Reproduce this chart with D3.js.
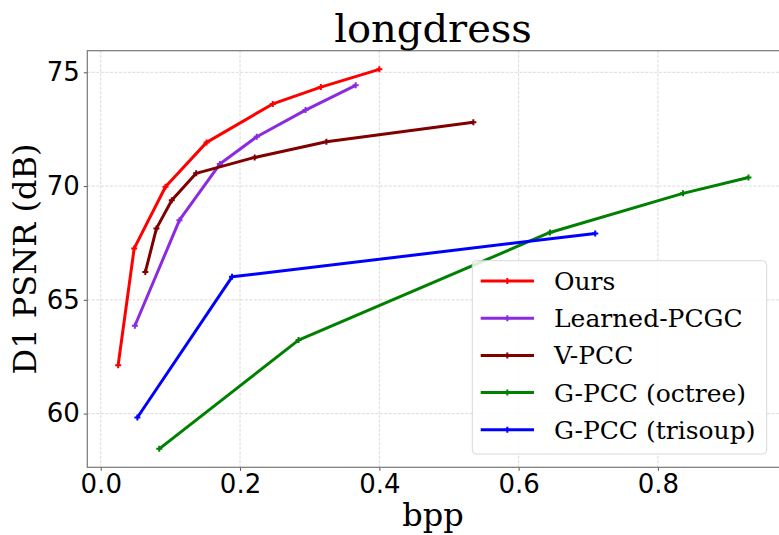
<!DOCTYPE html>
<html>
<head>
<meta charset="utf-8">
<script src="https://cdn.jsdelivr.net/npm/d3@7"></script>
<style>
  body { margin: 0; background: #fff; }
  svg { display: block; }
</style>
</head>
<body>
<svg id="chart" width="779" height="535"></svg>
<script>
// data
const seriesNames = ['Ours', 'Learned-PCGC', 'V-PCC', 'G-PCC (octree)', 'G-PCC (trisoup)'];
const seriesColors = ['#ff0000', '#8a2be2', '#800000', '#008000', '#0000ff'];

const oursBpp = [0.025, 0.048, 0.093, 0.152, 0.247, 0.316, 0.400];
const oursPsnr = [62.13, 67.26, 69.97, 71.92, 73.61, 74.35, 75.13];

const pcgcBpp = [0.049, 0.113, 0.171, 0.224, 0.294, 0.366];
const pcgcPsnr = [63.86, 68.50, 70.97, 72.17, 73.34, 74.43];

const vpccBpp = [0.064, 0.080, 0.102, 0.137, 0.221, 0.324, 0.535];
const vpccPsnr = [66.22, 68.14, 69.38, 70.56, 71.26, 71.95, 72.81];

const octreeBpp = [0.084, 0.284, 0.645, 0.836, 0.930];
const octreePsnr = [58.45, 63.23, 67.96, 69.68, 70.38];

const trisoupBpp = [0.0526, 0.1885, 0.710];
const trisoupPsnr = [59.83, 66.01, 67.92];

const xTicks = [0.0, 0.2, 0.4, 0.6, 0.8];
const yTicks = [60, 65, 70, 75];

const series = [
  [oursBpp, oursPsnr],
  [pcgcBpp, pcgcPsnr],
  [vpccBpp, vpccPsnr],
  [octreeBpp, octreePsnr],
  [trisoupBpp, trisoupPsnr],
].map((s, i) => ({
  name: seriesNames[i],
  color: seriesColors[i],
  points: s[0].map((b, j) => ({ x: b, y: s[1][j] }))
}));

const svg = d3.select('#chart');
const plotLeft = 87.3, plotRight = 779.8, plotTop = 50.7, plotBottom = 467.3;

const x = d3.scaleLinear().domain([-0.0193, 0.975]).range([plotLeft, plotRight]);
const y = d3.scaleLinear().domain([57.64, 75.95]).range([plotBottom, plotTop]);

const serif = 'DejaVu Serif, serif';
const sans = 'DejaVu Sans, sans-serif';

// grid
const grid = svg.append('g');
grid.selectAll('line.gx')
  .data(xTicks)
  .enter()
  .append('line')
    .attr('x1', d => x(d)).attr('x2', d => x(d))
    .attr('y1', plotTop).attr('y2', plotBottom)
    .attr('stroke', '#d0d0d0')
    .attr('stroke-width', 0.8)
    .attr('stroke-dasharray', '3,1.5');
grid.selectAll('line.gy')
  .data(yTicks)
  .enter()
  .append('line')
    .attr('x1', plotLeft).attr('x2', plotRight)
    .attr('y1', d => y(d)).attr('y2', d => y(d))
    .attr('stroke', '#d0d0d0')
    .attr('stroke-width', 0.8)
    .attr('stroke-dasharray', '3,1.5');

// axes
const xAxis = svg.append('g')
  .attr('transform', `translate(0,${plotBottom})`)
  .call(d3.axisBottom(x).tickValues(xTicks).tickFormat(d3.format('.1f')).tickSize(3.5).tickPadding(4));
const yAxis = svg.append('g')
  .attr('transform', `translate(${plotLeft},0)`)
  .call(d3.axisLeft(y).tickValues(yTicks).tickFormat(d3.format('d')).tickSize(3.5).tickPadding(4));

[xAxis, yAxis].forEach(ax => {
  ax.select('.domain').remove();
  ax.selectAll('line').attr('stroke', '#555');
  ax.selectAll('text')
    .attr('font-family', sans)
    .attr('font-size', '26px')
    .attr('fill', '#000');
});

// spines
svg.append('rect')
  .attr('x', plotLeft).attr('y', plotTop)
  .attr('width', plotRight - plotLeft).attr('height', plotBottom - plotTop)
  .attr('fill', 'none')
  .attr('stroke', '#777')
  .attr('stroke-width', 1.2);

// lines
const line = d3.line().x(d => x(d.x)).y(d => y(d.y));
const lines = svg.append('g');

series.forEach(s => {
  lines.append('path')
    .datum(s.points)
    .attr('d', line)
    .attr('fill', 'none')
    .attr('stroke', s.color)
    .attr('stroke-width', 3)
    .attr('stroke-linejoin', 'round');

  lines.selectAll(null)
    .data(s.points)
    .enter()
    .append('path')
      .attr('d', d => `M${x(d.x) - 3},${y(d.y)}h6M${x(d.x)},${y(d.y) - 3}v6`)
      .attr('stroke', s.color)
      .attr('stroke-width', 2);
});

// title and labels
svg.append('text')
  .attr('x', (plotLeft + plotRight) / 2 - 0.5)
  .attr('y', 41.5)
  .attr('text-anchor', 'middle')
  .attr('font-family', serif)
  .attr('font-size', '40px')
  .text('longdress');

svg.append('text')
  .attr('x', (plotLeft + plotRight) / 2 - 0.5)
  .attr('y', 526)
  .attr('text-anchor', 'middle')
  .attr('font-family', serif)
  .attr('font-size', '32px')
  .text('bpp');

svg.append('text')
  .attr('transform', `translate(36,${(plotTop + plotBottom) / 2}) rotate(-90)`)
  .attr('text-anchor', 'middle')
  .attr('font-family', serif)
  .attr('font-size', '32px')
  .text('D1 PSNR (dB)');

// legend
const legend = svg.append('g');
legend.append('rect')
  .attr('x', 472.3).attr('y', 260.7)
  .attr('width', 294.4).attr('height', 193.3)
  .attr('rx', 4)
  .attr('fill', '#fff')
  .attr('fill-opacity', 0.85)
  .attr('stroke', '#d8d8d8')
  .attr('stroke-width', 1);

const items = legend.selectAll('g.item')
  .data(series)
  .enter()
  .append('g')
    .attr('transform', (d, i) => `translate(0,${281 + i * 37.2})`);

items.append('line')
  .attr('x1', 480.7).attr('x2', 534)
  .attr('y1', 0).attr('y2', 0)
  .attr('stroke', d => d.color)
  .attr('stroke-width', 3);

items.append('path')
  .attr('d', 'M504.3,0h6M507.3,-3v6')
  .attr('stroke', d => d.color)
  .attr('stroke-width', 2);

items.append('text')
  .attr('x', 554)
  .attr('y', 9)
  .attr('font-family', serif)
  .attr('font-size', '25px')
  .text(d => d.name);
</script>
</body>
</html>
